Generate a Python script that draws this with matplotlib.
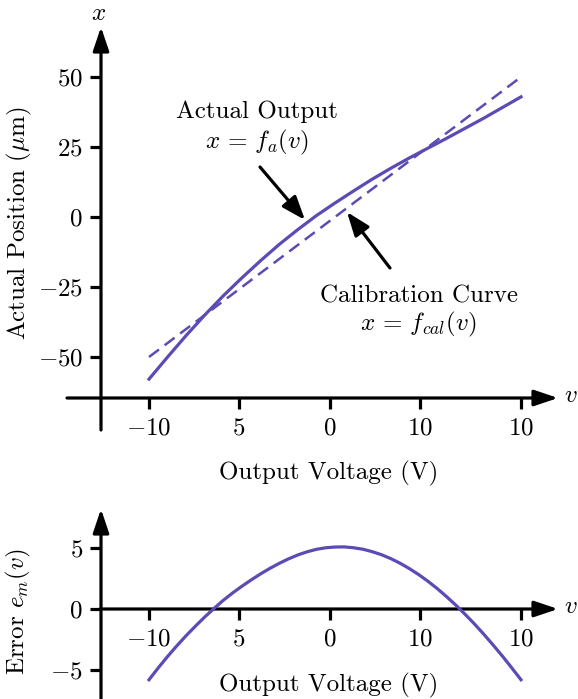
import matplotlib
matplotlib.use('Agg')
import matplotlib.pyplot as plt

plt.rcParams['font.family'] = 'serif'
plt.rcParams['font.serif'] = ['cmr10']
plt.rcParams['mathtext.fontset'] = 'cm'
plt.rcParams['axes.formatter.use_mathtext'] = True

# output voltage samples (V)
volts = [-10, -9, -8, -7, -6, -5, -4, -3, -2, -1, 0, 1, 2, 3, 4, 5, 6, 7, 8, 9, 10]
# actual output x = f_a(v), in um
actual_pos = [-57.9, -50.0, -42.3, -35.0, -28.1, -21.7, -15.6, -9.8, -4.5, 0.5, 5.0,
              9.3, 13.5, 17.4, 21.1, 24.6, 28.1, 31.7, 35.3, 39.1, 42.9]
# calibration curve x = f_cal(v) (straight line)
cal_volts = [-10, 10]
cal_pos = [-50, 50]
# error e_m(v), sampled every 0.5 V
err_volts = [-10, -9.5, -9, -8.5, -8, -7.5, -7, -6.5, -6, -5.5, -5, -4.5, -4, -3.5,
             -3, -2.5, -2, -1.5, -1, -0.5, 0, 0.5, 1, 1.5, 2, 2.5, 3, 3.5, 4, 4.5,
             5, 5.5, 6, 6.5, 7, 7.5, 8, 8.5, 9, 9.5, 10]
error = [-5.8, -4.82, -3.89, -3.01, -2.18, -1.40, -0.65, 0.05, 0.72, 1.32, 1.87,
         2.39, 2.88, 3.33, 3.74, 4.11, 4.43, 4.69, 4.89, 5.02, 5.08, 5.09, 5.02,
         4.90, 4.70, 4.45, 4.13, 3.75, 3.31, 2.82, 2.27, 1.67, 1.01, 0.31, -0.44,
         -1.23, -2.07, -2.95, -3.86, -4.82, -5.8]

xtick_pos = [-10, -5.16, -0.27, 4.57, 10]
xtick_labels = ['$-10$', '$5$', '$0$', '$10$', '$10$']
ytick_top = [-50, -25, 0, 25, 50]
ytick_bot = [-5, 0, 5]

purple = '#5b4cb5'
W, H = 578, 699
FS = 18

fig = plt.figure(figsize=(W / 100, H / 100), dpi=100)

# pixel <-> data mapping for the voltage axis (shared by both panels)
V0_PX, PX_PER_V = 335, 18.6
def vx(px):
    return (px - V0_PX) / PX_PER_V


def make_panel(top, bottom, zero_py, py_per_unit):
    ax = fig.add_axes([55 / W, 1 - bottom / H, 520 / W, (bottom - top) / H])
    ax.set_xlim(vx(55), vx(575))
    ax.set_ylim((zero_py - bottom) / py_per_unit, (zero_py - top) / py_per_unit)
    ax.patch.set_visible(False)
    yv = lambda py: (zero_py - py) / py_per_unit
    return ax, yv


def draw_axes(ax, yv, xaxis_py, xaxis_start_px, yaxis_top_py, yaxis_bot_py):
    arrow = dict(arrowstyle='-|>,head_length=0.8,head_width=0.27', lw=2.3,
                 color='k', shrinkA=0, shrinkB=0, mutation_scale=18)
    ax.annotate('', xy=(vx(558), yv(xaxis_py)), xytext=(vx(xaxis_start_px), yv(xaxis_py)),
                arrowprops=arrow, annotation_clip=False)
    ax.annotate('', xy=(vx(101), yv(yaxis_top_py)), xytext=(vx(101), yv(yaxis_bot_py)),
                arrowprops=arrow, annotation_clip=False)
    for s in ax.spines.values():
        s.set_visible(False)
    ax.spines['left'].set_position(('data', vx(101)))
    ax.spines['bottom'].set_position(('data', yv(xaxis_py)))
    ax.tick_params(direction='out', length=8, width=2.3, labelsize=FS, pad=5)
    ax.tick_params(axis='x', pad=6)
    ax.set_xticks(xtick_pos)
    ax.set_xticklabels(xtick_labels)


# ---------- top panel ----------
ax1, yv1 = make_panel(10, 445, 217, 2.8)
draw_axes(ax1, yv1, 398, 67, 27, 430)
ax1.set_yticks(ytick_top)
ax1.set_yticklabels(['$%d$' % t if t >= 0 else '$-%d$' % -t for t in ytick_top])
ax1.plot(volts, actual_pos, color=purple, lw=2.3, zorder=5)
ax1.plot(cal_volts, cal_pos, color=purple, lw=1.8, ls=(0, (5, 2.8)), zorder=5)

pointer = dict(arrowstyle='-|>,head_length=0.8,head_width=0.3', lw=2.3,
               color='k', shrinkA=0, shrinkB=0, mutation_scale=18)
ax1.annotate('', xy=(vx(305), yv1(220)), xytext=(vx(260), yv1(167)), arrowprops=pointer)
ax1.annotate('', xy=(vx(347), yv1(212)), xytext=(vx(390), yv1(268)), arrowprops=pointer)

fig.text(257 / W, 1 - 112 / H, 'Actual Output', ha='center', va='center', fontsize=FS)
fig.text(257 / W, 1 - 142 / H, r'$x\,=\,f_a(v)$', ha='center', va='center', fontsize=FS)
fig.text(419 / W, 1 - 296 / H, 'Calibration Curve', ha='center', va='center', fontsize=FS)
fig.text(418 / W, 1 - 324 / H, r'$x\,=\,f_{cal}(v)$', ha='center', va='center', fontsize=FS)

fig.text(99 / W, 1 - 14 / H, r'$x$', ha='center', va='center', fontsize=FS)
fig.text(571 / W, 1 - 396 / H, r'$v$', ha='center', va='center', fontsize=FS)
fig.text(19 / W, 1 - 223 / H, r'Actual Position ($\mu$m)', rotation=90,
         ha='center', va='center', fontsize=FS)
fig.text(329 / W, 1 - 473 / H, 'Output Voltage (V)', ha='center', va='center', fontsize=FS)

# ---------- bottom panel ----------
ax2, yv2 = make_panel(495, 699, 609, 12.2)
draw_axes(ax2, yv2, 609, 100, 509, 705)
ax2.set_yticks(ytick_bot)
ax2.set_yticklabels(['$%d$' % t if t >= 0 else '$-%d$' % -t for t in ytick_bot])
ax2.plot(err_volts, error, color=purple, lw=2.3, zorder=5, clip_on=False)

fig.text(571 / W, 1 - 607 / H, r'$v$', ha='center', va='center', fontsize=FS)
fig.text(18 / W, 1 - 612 / H, r'Error $e_m(v)$', rotation=90,
         ha='center', va='center', fontsize=FS)
fig.text(329 / W, 1 - 685 / H, 'Output Voltage (V)', ha='center', va='center', fontsize=FS)

fig.savefig('out.png', dpi=100)
